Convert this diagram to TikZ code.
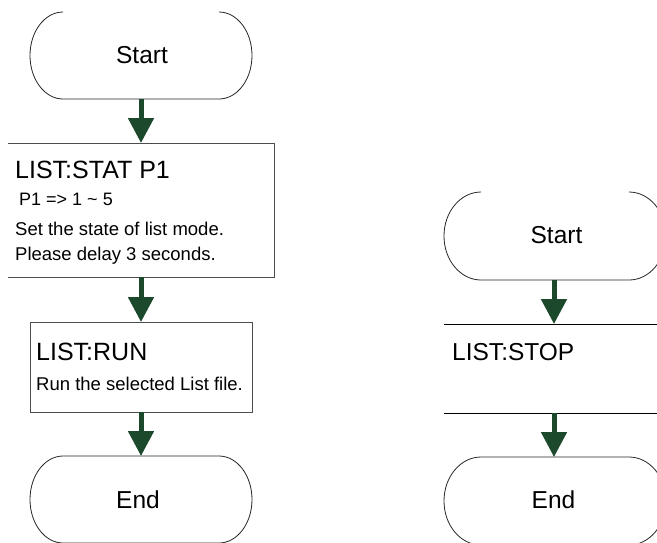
\documentclass[tikz,border=0pt]{standalone}
\usepackage{fontspec}
\setmainfont{Liberation Sans}
\usetikzlibrary{arrows.meta}
\definecolor{arrowgreen}{RGB}{28,72,44}
\tikzset{
  anchorbox/.style={inner sep=0pt, outer sep=0pt, draw=none},
  outline/.style={draw=black!85, line width=0.8pt},
  boxline/.style={draw=black!70, line width=1pt},
  arr/.style={draw=arrowgreen, line width=5pt, -{Triangle[width=25pt,length=25pt]}},
  big/.style={font=\fontsize{25}{30}\selectfont, inner sep=0pt},
  term/.style={font=\fontsize{24.5}{29}\selectfont, inner sep=0pt},
  small/.style={font=\fontsize{18.5}{22}\selectfont, inner sep=0pt},
}
\begin{document}
\begin{tikzpicture}[x=1pt,y=-1pt]
\useasboundingbox (0,0) rectangle (657,542);
\clip (0,0) rectangle (657,542);

% ---------- left flow ----------
\node[anchorbox, minimum width=222pt, minimum height=87pt] (s1) at (141,55.5) {};
\node[anchorbox, minimum width=266pt, minimum height=134pt] (b1) at (141,210) {};
\node[anchorbox, minimum width=222pt, minimum height=90pt] (b2) at (141,367) {};
\node[anchorbox, minimum width=222pt, minimum height=87pt] (e1) at (141,499.5) {};

% Start (top line not shown)
\draw[outline] ([xshift=33pt]s1.north west)
  arc[start angle=90, end angle=270, x radius=33pt, y radius=43.5pt]
  -- ([xshift=-33pt]s1.south east)
  arc[start angle=-90, end angle=90, x radius=33pt, y radius=43.5pt];
\node[term, anchor=base] (s1t) at (142,63) {Start};

% box 1 (left edge not shown)
\draw[boxline] (b1.north west) -- (b1.north east) -- (b1.south east) -- (b1.south west);
\node[big, anchor=base west] (b1a) at (15,178) {LIST:STAT P1};
\node[font=\fontsize{18}{22}\selectfont, inner sep=0pt, anchor=base west] (b1b) at (19,205) {P1 => 1 \char`\~{} 5};
\node[small, anchor=base west] (b1c) at (15,235) {Set the state of list mode.};
\node[small, anchor=base west] (b1d) at (15,260) {Please delay 3 seconds.};

% box 2
\draw[boxline] (b2.north west) rectangle (b2.south east);
\node[big, anchor=base west] (b2a) at (36,360) {LIST:RUN};
\node[small, anchor=base west] (b2b) at (36,390) {Run the selected List file.};

% End
\draw[outline] ([xshift=33pt]e1.north west) -- ([xshift=-33pt]e1.north east)
  arc[start angle=90, end angle=-90, x radius=33pt, y radius=43.5pt]
  -- ([xshift=33pt]e1.south west)
  arc[start angle=270, end angle=90, x radius=33pt, y radius=43.5pt];
\node[term, anchor=base] (e1t) at (138,508) {End};

\draw[arr] (s1.south) -- (b1.north);
\draw[arr] (b1.south) -- (b2.north);
\draw[arr] (b2.south) -- (e1.north);

% ---------- right flow ----------
\node[anchorbox, minimum width=222pt, minimum height=88pt] (s2) at (555,236) {};
\node[anchorbox, minimum width=222pt, minimum height=89pt] (b3) at (555,368.5) {};
\node[anchorbox, minimum width=222pt, minimum height=88pt] (e2) at (555,501) {};

\draw[outline] ([xshift=37pt]s2.north west)
  arc[start angle=90, end angle=270, x radius=37pt, y radius=44pt]
  -- ([xshift=-37pt]s2.south east)
  arc[start angle=-90, end angle=90, x radius=37pt, y radius=44pt];
\node[term, anchor=base] (s2t) at (556.5,243) {Start};

\draw[draw=black, line width=0.9pt] (b3.north west) -- (b3.north east);
\draw[draw=black, line width=0.9pt] (b3.south west) -- (b3.south east);
\node[font=\fontsize{24.5}{29}\selectfont, inner sep=0pt, anchor=base west] (b3a) at (452,360) {LIST:STOP};

\draw[outline] ([xshift=37pt]e2.north west) -- ([xshift=-37pt]e2.north east)
  arc[start angle=90, end angle=-90, x radius=37pt, y radius=44pt]
  -- ([xshift=37pt]e2.south west)
  arc[start angle=270, end angle=90, x radius=37pt, y radius=44pt];
\node[term, anchor=base] (e2t) at (553.5,508) {End};

\draw[arr] ([xshift=-1pt]s2.south) -- ([xshift=-1pt]b3.north);
\draw[arr] ([xshift=-1pt]b3.south) -- ([xshift=-1pt]e2.north);
\end{tikzpicture}
\end{document}
